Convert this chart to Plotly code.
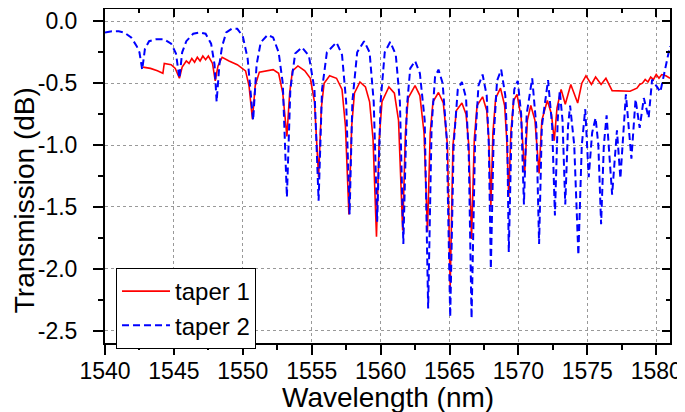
import plotly.graph_objects as go

# taper 1 (solid red) - wavelength in nm, transmission in dB
wl_taper1 = [1542.75, 1543.3, 1543.8, 1544.2, 1544.3, 1544.8, 1545.1, 1545.4, 1545.6, 1545.9,
             1546.1, 1546.3, 1546.5, 1546.7, 1546.9, 1547.1, 1547.3, 1547.5, 1547.8, 1548.0,
             1548.2, 1548.5, 1549.0, 1549.6, 1550.2, 1550.45, 1550.7, 1550.9, 1551.2, 1551.7,
             1552.2, 1552.6, 1552.9, 1553.2, 1553.4, 1553.6, 1554.0, 1554.5, 1554.9, 1555.2,
             1555.5, 1555.7, 1555.9, 1556.3, 1556.8, 1557.2, 1557.45, 1557.7, 1557.9, 1558.1,
             1558.5, 1558.9, 1559.2, 1559.45, 1559.7, 1559.9, 1560.1, 1560.6, 1561.0, 1561.3,
             1561.6, 1561.8, 1562.0, 1562.5, 1562.85, 1563.15, 1563.4, 1563.6, 1563.8, 1564.2,
             1564.55, 1564.85, 1565.05, 1565.25, 1565.5, 1565.9, 1566.2, 1566.4, 1566.6, 1566.8,
             1567.0, 1567.4, 1567.7, 1567.85, 1568.0, 1568.15, 1568.35, 1568.7, 1569.0, 1569.15,
             1569.3, 1569.45, 1569.65, 1569.9, 1570.2, 1570.45, 1570.65, 1570.9, 1571.2, 1571.5,
             1571.7, 1572.1, 1572.4, 1572.6, 1572.8, 1573.1, 1573.4, 1573.8, 1574.3, 1574.6,
             1574.9, 1575.3, 1575.6, 1576.0, 1576.35, 1576.8, 1577.3, 1578.1, 1578.6, 1578.8,
             1579.0, 1579.2, 1579.4, 1579.6, 1579.8, 1580.0, 1580.2, 1580.4, 1580.7, 1581.0]
tr_taper1 = [-0.37, -0.38, -0.40, -0.42, -0.34, -0.35, -0.38, -0.46, -0.37, -0.32,
             -0.34, -0.30, -0.33, -0.29, -0.32, -0.28, -0.31, -0.28, -0.34, -0.48,
             -0.36, -0.29, -0.32, -0.35, -0.40, -0.52, -0.79, -0.52, -0.41, -0.40,
             -0.39, -0.42, -0.58, -0.93, -0.58, -0.40, -0.36, -0.40, -0.46, -0.65,
             -1.26, -0.70, -0.50, -0.44, -0.46, -0.55, -0.85, -1.56, -0.85, -0.58,
             -0.49, -0.53, -0.65, -0.95, -1.74, -0.95, -0.65, -0.53, -0.58, -0.80,
             -1.69, -0.90, -0.62, -0.52, -0.60, -0.90, -1.70, -0.90, -0.65, -0.575,
             -0.66, -1.00, -2.15, -1.00, -0.72, -0.66, -0.75, -1.00, -1.76, -0.95,
             -0.68, -0.61, -0.72, -0.95, -1.50, -0.90, -0.62, -0.54, -0.68, -0.95,
             -1.42, -0.90, -0.64, -0.59, -0.78, -1.23, -0.80, -0.68, -0.80, -1.23,
             -0.80, -0.64, -0.75, -0.965, -0.70, -0.55, -0.67, -0.51, -0.66, -0.50,
             -0.44, -0.51, -0.45, -0.51, -0.46, -0.56, -0.56, -0.565, -0.54, -0.51,
             -0.50, -0.47, -0.49, -0.45, -0.47, -0.43, -0.46, -0.43, -0.44, -0.46]

# taper 2 (dashed blue)
wl_taper2 = [1540.0, 1540.5, 1541.0, 1541.4, 1541.9, 1542.3, 1542.5, 1542.7, 1542.9, 1543.2,
             1543.7, 1544.3, 1544.8, 1545.15, 1545.4, 1545.6, 1545.9, 1546.4, 1546.9, 1547.3,
             1547.7, 1547.95, 1548.1, 1548.3, 1548.5, 1548.8, 1549.2, 1549.6, 1550.0, 1550.35,
             1550.75, 1551.0, 1551.3, 1551.8, 1552.2, 1552.6, 1552.9, 1553.2, 1553.45, 1553.8,
             1554.3, 1554.8, 1555.2, 1555.5, 1555.75, 1556.1, 1556.8, 1557.2, 1557.5, 1557.75,
             1557.95, 1558.3, 1558.8, 1559.2, 1559.5, 1559.75, 1560.0, 1560.3, 1560.7, 1561.1,
             1561.4, 1561.65, 1561.9, 1562.15, 1562.5, 1562.85, 1563.2, 1563.45, 1563.7, 1563.95,
             1564.2, 1564.5, 1564.8, 1565.05, 1565.3, 1565.6, 1565.9, 1566.2, 1566.4, 1566.6,
             1566.85, 1567.1, 1567.4, 1567.7, 1567.85, 1568.0, 1568.2, 1568.45, 1568.75, 1569.05,
             1569.2, 1569.3, 1569.5, 1569.7, 1569.95, 1570.2, 1570.4, 1570.6, 1571.0, 1571.3,
             1571.5, 1571.7, 1572.15, 1572.45, 1572.65, 1572.85, 1573.0, 1573.2, 1573.4, 1573.6,
             1573.75, 1574.05, 1574.35, 1574.6, 1574.85, 1575.1, 1575.35, 1575.6, 1575.8, 1576.0,
             1576.2, 1576.4, 1576.8, 1577.15, 1577.4, 1577.8, 1578.2, 1578.5, 1578.8, 1579.1,
             1579.45, 1579.7, 1580.3, 1580.65, 1581.0]
tr_taper2 = [-0.09, -0.08, -0.08, -0.09, -0.13, -0.20, -0.25, -0.39, -0.22, -0.16,
             -0.145, -0.145, -0.18, -0.26, -0.46, -0.25, -0.16, -0.10, -0.09, -0.10,
             -0.18, -0.35, -0.65, -0.35, -0.20, -0.09, -0.06, -0.06, -0.12, -0.30,
             -0.80, -0.35, -0.17, -0.11, -0.13, -0.25, -0.50, -1.42, -0.55, -0.26,
             -0.21, -0.28, -0.55, -1.45, -0.55, -0.25, -0.17, -0.27, -0.65, -1.56,
             -0.65, -0.25, -0.16, -0.25, -0.65, -1.62, -0.65, -0.25, -0.165, -0.27,
             -0.65, -1.80, -0.70, -0.38, -0.32, -0.42, -0.80, -2.32, -0.85, -0.45,
             -0.39, -0.50, -0.95, -2.39, -1.00, -0.55, -0.49, -0.62, -1.10, -2.40,
             -1.00, -0.52, -0.43, -0.60, -1.00, -2.00, -0.95, -0.48, -0.39, -0.60,
             -1.00, -1.865, -0.90, -0.55, -0.48, -0.75, -1.48, -0.75, -0.46, -0.85,
             -1.80, -0.85, -0.475, -0.85, -1.57, -0.80, -0.56, -0.80, -1.48, -0.85,
             -0.68, -1.00, -1.89, -1.00, -0.71, -1.26, -0.90, -0.78, -1.00, -1.64,
             -1.00, -0.76, -1.40, -0.88, -1.27, -0.59, -1.11, -0.63, -0.86, -0.62,
             -0.78, -0.47, -0.57, -0.39, -0.20]

# tick labels
x_ticks = [1540, 1545, 1550, 1555, 1560, 1565, 1570, 1575, 1580]
y_ticks = [0.0, -0.5, -1.0, -1.5, -2.0, -2.5]
y_ticktext = ["0.0", "-0.5", "-1.0", "-1.5", "-2.0", "-2.5"]

FONT = "Liberation Sans, Arial, sans-serif"

fig = go.Figure()
fig.add_trace(go.Scatter(x=wl_taper1, y=tr_taper1, mode="lines", name="taper 1",
                         line=dict(color="#ff0000", width=1.6)))
fig.add_trace(go.Scatter(x=wl_taper2, y=tr_taper2, mode="lines", name="taper 2",
                         line=dict(color="#0000ff", width=2, dash="7px,4px")))
# empty traces so the extra (mirror / label) axes get drawn
fig.add_trace(go.Scatter(x=[], y=[], xaxis="x2", yaxis="y2", showlegend=False))
fig.add_trace(go.Scatter(x=[], y=[], xaxis="x3", yaxis="y", showlegend=False))

axis_common = dict(showline=True, linecolor="black", linewidth=2, zeroline=False,
                   automargin=False)

# the page body has an 8px margin, so the figure is 8px smaller than the window
fig.update_layout(
    width=677, height=404,
    margin=dict(l=97, r=15, t=1, b=69),
    paper_bgcolor="white", plot_bgcolor="white",
    font=dict(family=FONT, size=23, color="black"),
    xaxis=dict(range=[1540, 1581], tickvals=x_ticks, ticks="outside", ticklen=10,
               tickwidth=1.5, tickcolor="black", showticklabels=False,
               minor=dict(dtick=2.5, tick0=1540, ticks="outside", ticklen=5,
                          tickcolor="black", showgrid=False),
               showgrid=True, gridcolor="#999999", griddash="dot", gridwidth=1,
               **axis_common),
    # bottom labels on their own axis, so they sit close to the long ticks
    xaxis3=dict(overlaying="x", side="bottom", range=[1540, 1581], tickvals=x_ticks,
                ticks="", showticklabels=True, ticklabelstandoff=12,
                tickfont=dict(size=23), showgrid=False, showline=False,
                zeroline=False, automargin=False),
    yaxis=dict(range=[-2.6, 0.1], tickvals=y_ticks, ticktext=y_ticktext,
               ticks="outside", ticklen=10, tickwidth=1.5, tickcolor="black",
               ticklabelstandoff=11,
               minor=dict(dtick=0.25, tick0=0, ticks="outside", ticklen=5,
                          tickcolor="black", showgrid=False),
               showgrid=True, gridcolor="#999999", griddash="dot", gridwidth=1,
               tickfont=dict(size=23), **axis_common),
    xaxis2=dict(overlaying="x", side="top", range=[1540, 1581], tickvals=x_ticks,
                ticks="inside", ticklen=8, tickwidth=1.5, tickcolor="black",
                minor=dict(dtick=2.5, tick0=1540, ticks="inside", ticklen=4,
                           tickcolor="black"),
                showticklabels=False, showgrid=False, **axis_common),
    yaxis2=dict(overlaying="y", side="right", range=[-2.6, 0.1], tickvals=y_ticks,
                ticks="inside", ticklen=8, tickwidth=1.5, tickcolor="black",
                minor=dict(dtick=0.25, tick0=0, ticks="inside", ticklen=4,
                           tickcolor="black"),
                showticklabels=False, showgrid=False, **axis_common),
    legend=dict(x=0.0195, y=0.2246, xanchor="left", yanchor="top",
                bgcolor="white", bordercolor="black", borderwidth=1,
                font=dict(size=24), itemwidth=48, tracegroupgap=0),
    showlegend=True,
    annotations=[
        dict(text="Wavelength (nm)", xref="paper", yref="paper", x=0.5, y=-0.162,
             xanchor="center", yanchor="middle", showarrow=False, font=dict(size=28)),
        dict(text="Transmission (dB)", xref="paper", yref="paper", x=-0.143, y=0.428,
             xanchor="center", yanchor="middle", textangle=-90, showarrow=False,
             font=dict(size=28)),
    ],
)

fig.write_html("out.html")
